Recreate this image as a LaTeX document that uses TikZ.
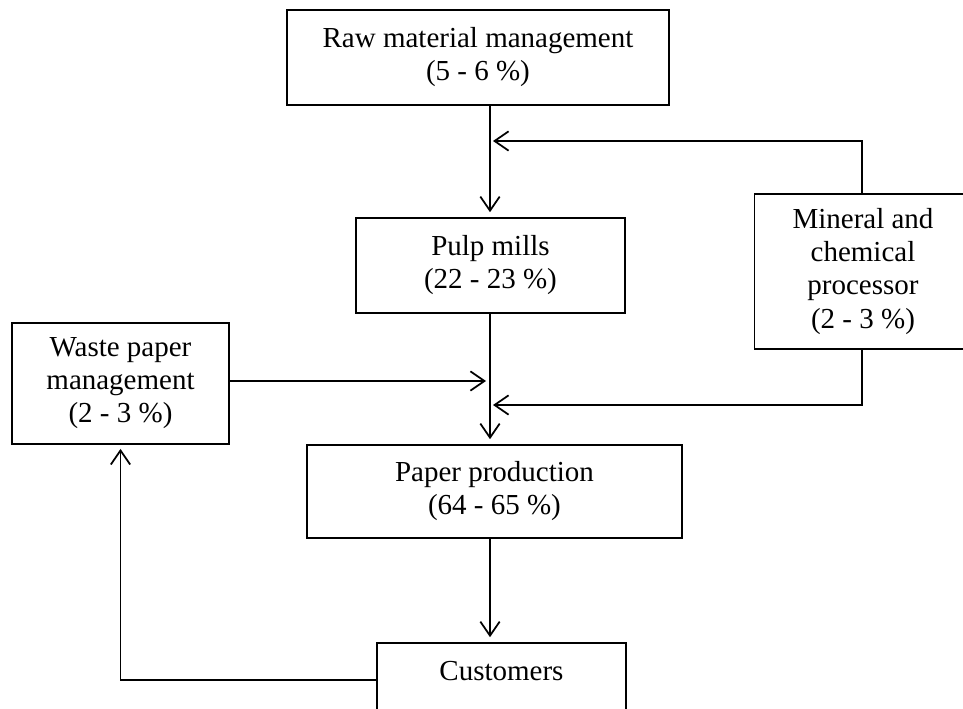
\documentclass[tikz,border=0pt]{standalone}
\usepackage{fontspec}
\setmainfont{Liberation Serif}
\usetikzlibrary{arrows.meta}

\begin{document}
\begin{tikzpicture}[
      x=0.02cm, y=-0.02cm,
      line width=1pt,
      >={Straight Barb[length=8pt, width=11pt]},
      box/.style={draw, rectangle, align=center, inner sep=0pt,
        font=\fontsize{16.5}{18.8}\selectfont}
    ]
    % frame
    \clip (0, 0) rectangle (963, 709);

    % boxes
    \node [box, minimum width=7.64cm, minimum height=1.9cm] (raw) at (478, 57.5)
      {Raw material management\\(5 - 6 \%)};
    \node [box, minimum width=5.38cm, minimum height=1.9cm] (pulp) at (490.5, 265.5)
      {Pulp mills\\(22 - 23 \%)};
    \node [box, minimum width=4.34cm, minimum height=3.1cm] (mineral) at (863, 271.5)
      {Mineral and\\chemical\\processor\\(2 - 3 \%)};
    \node [box, minimum width=4.34cm, minimum height=2.42cm] (waste) at (120.5, 383.5)
      {Waste paper\\management\\(2 - 3 \%)};
    \node [box, minimum width=7.5cm, minimum height=1.86cm] (paper) at (494.5, 491.5)
      {Paper production\\(64 - 65 \%)};
    \node [box, minimum width=4.98cm, minimum height=1.48cm, text depth=10pt] (customers) at (501.5, 680)
      {Customers};

    % joints on the main line
    \coordinate (axis) at (490, 0);
    \coordinate (up) at (862, 0);
    \coordinate (in1) at (493, 141);
    \coordinate (in2) at (486, 381);
    \coordinate (in3) at (493, 405);

    % main line
    \draw [->, shorten >=2.8pt] (raw.south -| axis) -- (pulp.north -| axis);
    \draw [->, shorten >=2.8pt] (pulp.south -| axis) -- (paper.north -| axis);
    \draw [->, shorten >=2.8pt] (paper.south -| axis) -- (customers.north -| axis);

    % inputs
    \draw [->] (mineral.north -| up) |- (in1);
    \draw [->] (mineral.south -| up) |- (in3);
    \draw [->] (waste.east |- in2) -- (in2);

    % recycling
    \draw [->, shorten >=2.3pt] (customers.west) -| (waste.south);
  \end{tikzpicture}
\end{document}
